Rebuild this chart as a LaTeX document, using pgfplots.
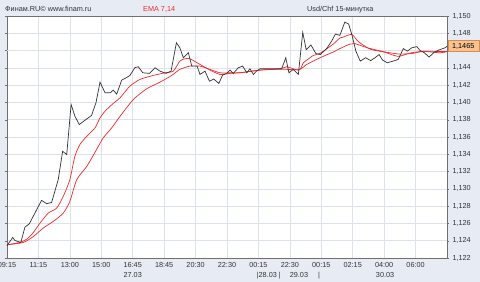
\documentclass[border=0pt]{standalone}
\usepackage{pgfplots}
\pgfplotsset{compat=1.18}
\usepackage{fontspec}
\setmainfont{Liberation Sans}
\definecolor{bg}{HTML}{E6EBF4}
\definecolor{gridc}{HTML}{DCE2EC}
\definecolor{framec}{HTML}{707070}
\definecolor{emared}{HTML}{EE2A2A}
\definecolor{pricec}{HTML}{333333}
\definecolor{boxfill}{HTML}{F9C291}
\definecolor{boxdraw}{HTML}{E0874A}
\newcommand{\sm}{\fontsize{7.3}{8.5}\selectfont}
\begin{document}
\begin{tikzpicture}
\fill[bg] (0,0) rectangle (480bp,282bp);
\path[use as bounding box] (0,0) rectangle (480bp,282bp);
\node[anchor=base west, inner sep=0pt, font=\sm, text=black!80] at (5bp,270bp) {Финам.RU© www.finam.ru};
\node[anchor=base west, inner sep=0pt, font=\sm, text=emared] at (143bp,270bp) {EMA 7,14};
\node[anchor=base west, inner sep=0pt, font=\sm, text=black!80] at (307bp,270bp) {Usd/Chf 15-минутка};
\begin{axis}[
  at={(7bp,24bp)}, anchor=south west,
  scale only axis, width=440bp, height=242bp,
  xmin=0, xmax=14, ymin=1.122, ymax=1.150,
  axis background/.style={fill=white},
  axis line style={framec, line width=0.9bp},
  grid=major, major grid style={gridc, line width=0.6bp},
  xtick={0,...,13},
  xticklabels={09:15,11:15,13:00,15:00,16:45,18:45,20:30,22:30,00:15,22:30,00:15,02:15,04:00,06:00},
  ytick={1.122,1.124,1.126,1.128,1.130,1.132,1.134,1.136,1.138,1.140,1.142,1.144,1.148,1.150},
  extra y ticks={1.146}, extra y tick labels={},
  extra y tick style={grid=major},
  yticklabel pos=right,
  scaled y ticks=false,
  yticklabel style={/pgf/number format/.cd, fixed, fixed zerofill, precision=3, use comma},
  /pgf/number format/assume math mode=true,
  tick label style={font=\sm, text=black!80},
  xtick style={draw=none},
  ytick style={framec},
  tick align=outside,
  major tick length=2bp,
  xticklabel style={yshift=1bp},
  clip=false,
]
\addplot[emared, line width=0.7bp, smooth, tension=0.4] coordinates {
(0,1.12353) (0.52,1.12380) (0.84,1.12449) (1.15,1.12546) (1.47,1.12623) (1.79,1.12719)
(2.00,1.12855) (2.22,1.13107) (2.54,1.13261) (2.85,1.13455) (3.06,1.13589) (3.33,1.13705)
(3.60,1.13841) (4.02,1.14034) (4.45,1.14159) (4.87,1.14235) (5.24,1.14312) (5.50,1.14382)
(5.82,1.14420) (6.14,1.14420) (6.46,1.14382) (6.78,1.14343) (7.10,1.14343) (7.41,1.14343)
(8.05,1.14374) (8.69,1.14385) (9.29,1.14380) (9.54,1.14440) (9.96,1.14517) (10.38,1.14583)
(10.59,1.14623) (10.91,1.14675) (11.07,1.14681) (11.44,1.14635) (11.97,1.14588) (12.50,1.14559)
(12.92,1.14568) (13.25,1.14591) (14.0,1.14588)};
\addplot[emared, line width=0.7bp, smooth, tension=0.4] coordinates {
(0,1.12353) (0.41,1.12380) (0.63,1.12418) (0.84,1.12496) (1.05,1.12604) (1.31,1.12719)
(1.58,1.12777) (1.79,1.12913) (2.00,1.13107) (2.16,1.13377) (2.32,1.13513) (2.54,1.13609)
(2.80,1.13705) (2.96,1.13821) (3.12,1.13899) (3.38,1.13988) (3.60,1.14055) (3.91,1.14188)
(4.23,1.14266) (4.65,1.14312) (5.03,1.14343) (5.29,1.14362) (5.50,1.14478) (5.66,1.14505)
(5.82,1.14505) (6.14,1.14440) (6.46,1.14374) (6.78,1.14324) (7.10,1.14336) (7.41,1.14343)
(8.05,1.14374) (8.69,1.14389) (8.90,1.14412) (9.29,1.14374) (9.43,1.14459) (9.54,1.14490)
(9.75,1.14544) (9.96,1.14568) (10.38,1.14675) (10.59,1.14745) (10.70,1.14757) (10.97,1.14786)
(11.18,1.14704) (11.55,1.14617) (12.03,1.14580) (12.44,1.14533) (12.82,1.14571) (13.25,1.14591)
(13.78,1.14574) (14.0,1.14588)};
\addplot[pricec, line width=0.7bp] coordinates {
(0,1.12341) (0.18,1.12438) (0.25,1.12403) (0.44,1.12380) (0.57,1.12557) (0.71,1.12596)
(1.10,1.12867) (1.26,1.12828) (1.42,1.12843) (1.63,1.13107) (1.77,1.13435) (1.90,1.13397)
(2.04,1.13976) (2.16,1.13841) (2.30,1.13744) (2.48,1.13794) (2.69,1.13849) (2.83,1.13995)
(2.96,1.14235) (3.12,1.14111) (3.28,1.14111) (3.38,1.14142) (3.49,1.14096) (3.65,1.14258)
(3.81,1.14289) (3.91,1.14312) (4.07,1.14403) (4.18,1.14412) (4.32,1.14343) (4.53,1.14336)
(4.71,1.14401) (4.87,1.14362) (5.06,1.14336) (5.22,1.14362) (5.39,1.14690) (5.50,1.14632)
(5.61,1.14517) (5.77,1.14575) (5.88,1.14420) (6.05,1.14420) (6.14,1.14324) (6.30,1.14362)
(6.44,1.14246) (6.58,1.14270) (6.74,1.14220) (6.86,1.14316) (6.99,1.14336) (7.10,1.14374)
(7.20,1.14336) (7.36,1.14401) (7.50,1.14420) (7.63,1.14343) (7.73,1.14389) (7.84,1.14324)
(7.94,1.14362) (8.05,1.14389) (8.74,1.14389) (8.87,1.14517) (8.97,1.14343) (9.11,1.14382)
(9.27,1.14324) (9.41,1.14811) (9.52,1.14609) (9.67,1.14664) (9.83,1.14565) (9.97,1.14554)
(10.17,1.14623) (10.33,1.14710) (10.45,1.14791) (10.59,1.14776) (10.75,1.14930) (10.87,1.14907)
(10.97,1.14788) (11.10,1.14594) (11.24,1.14478) (11.41,1.14517) (11.57,1.14484) (11.71,1.14517)
(11.84,1.14554) (11.95,1.14490) (12.10,1.14459) (12.29,1.14478) (12.45,1.14498) (12.61,1.14623)
(12.74,1.14594) (12.88,1.14632) (13.04,1.14646) (13.14,1.14602) (13.27,1.14577) (13.43,1.14525)
(13.60,1.14583) (13.78,1.14612) (13.94,1.14632) (14.0,1.14650)};
\node[font=\sm, text=black!80, anchor=north] at (axis cs:4,1.122) [yshift=-10.5bp] {27.03};
\node[font=\sm, text=black!80, anchor=north] at (axis cs:8.33,1.122) [yshift=-10.5bp] {|28.03 |};
\node[font=\sm, text=black!80, anchor=north] at (axis cs:9.29,1.122) [yshift=-10.5bp] {29.03};
\node[font=\sm, text=black!80, anchor=north] at (axis cs:9.93,1.122) [yshift=-10.5bp] {|};
\node[font=\sm, text=black!80, anchor=north] at (axis cs:12.03,1.122) [yshift=-10.5bp] {30.03};
\node[font=\sm, anchor=west, fill=boxfill, draw=boxdraw, line width=0.5bp, inner sep=1.5bp, minimum height=11bp, text width=28bp, align=center] at (axis cs:14,1.1465) [xshift=0.5bp] {1,1465};
\end{axis}
\end{tikzpicture}
\end{document}
